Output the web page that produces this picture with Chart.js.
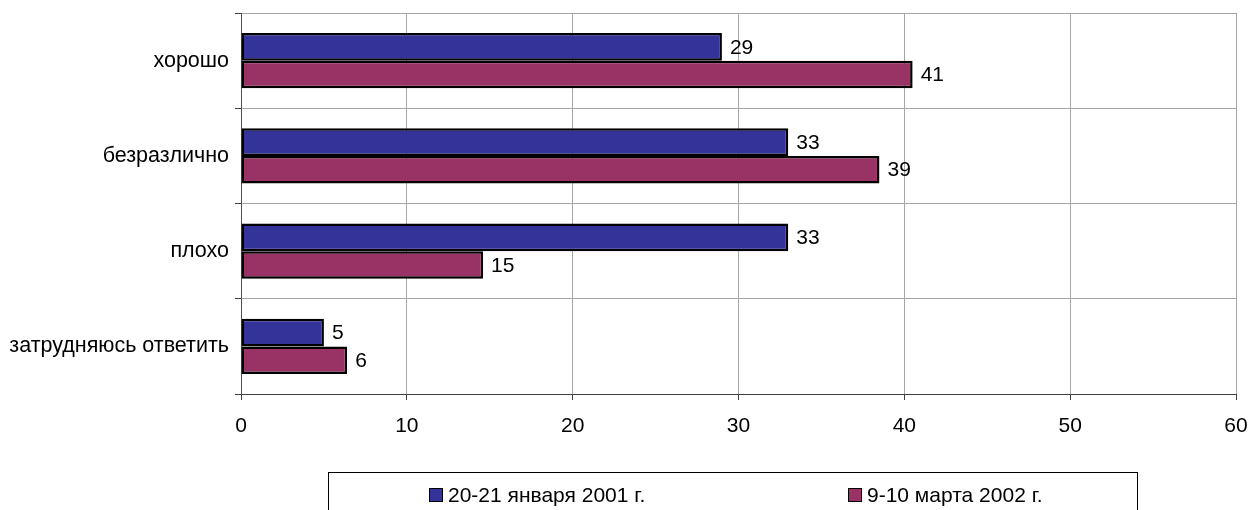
<!DOCTYPE html>
<html>
<head>
<meta charset="utf-8">
<script src="https://cdn.jsdelivr.net/npm/chart.js@4.4.0/dist/chart.umd.min.js"></script>
<style>
    html, body { margin: 0; padding: 0; background: #fff; }
    #wrap { position: relative; width: 1250px; height: 510px; overflow: hidden; }
    #legendBox {
        position: absolute; left: 328px; top: 472px; width: 810px; height: 60px;
        border: 1px solid #000; box-sizing: border-box;
        font-family: 'Liberation Sans', Arial, sans-serif; font-size: 21px; color: #000;
    }
    .lg-item { position: absolute; top: 10px; display: flex; align-items: center; white-space: nowrap; }
    .lg-sq { width: 12px; height: 12px; border: 1px solid #000; margin-right: 5px; }
</style>
</head>
<body>
<div id="wrap">
    <canvas id="myChart" width="1250" height="510"></canvas>
    <div id="legendBox"></div>
</div>
<script>
const categories = ['хорошо', 'безразлично', 'плохо', 'затрудняюсь ответить'];
const seriesNames = ['20-21 января 2001 г.', '9-10 марта 2002 г.'];
const jan2001 = [29, 33, 33, 5];
const mar2002 = [40.5, 38.5, 14.6, 6.4];
const xTicks = [0, 10, 20, 30, 40, 50, 60];
const colors = ['#333399', '#993366'];

const FONT = "'Liberation Sans', Arial, sans-serif";

// value labels at the end of each bar
const barLabels = {
    id: 'barLabels',
    afterDatasetsDraw(chart) {
        const ctx = chart.ctx;
        ctx.save();
        ctx.font = '21px ' + FONT;
        ctx.fillStyle = '#000';
        ctx.textAlign = 'left';
        ctx.textBaseline = 'middle';
        chart.data.datasets.forEach((ds, i) => {
            chart.getDatasetMeta(i).data.forEach((bar, j) => {
                ctx.fillText(String(Math.round(ds.data[j])), bar.x + 8, bar.y + 1);
            });
        });
        ctx.restore();
    }
};

function noPad(scale) {
    scale.paddingLeft = 0;
    scale.paddingRight = 0;
    scale.paddingTop = 0;
    scale.paddingBottom = 0;
}

const myChart = new Chart(document.getElementById('myChart'), {
    type: 'bar',
    data: {
        labels: categories,
        datasets: [{
            label: seriesNames[0],
            data: jan2001,
            backgroundColor: colors[0],
            borderColor: '#000',
            borderWidth: 2.5,
            borderSkipped: false,
        }, {
            label: seriesNames[1],
            data: mar2002,
            backgroundColor: colors[1],
            borderColor: '#000',
            borderWidth: 2.5,
            borderSkipped: false,
        }]
    },
    options: {
        indexAxis: 'y',
        responsive: false,
        animation: false,
        categoryPercentage: 0.58,
        barPercentage: 1.0,
        layout: { padding: { left: 0, top: 13, right: 14, bottom: 0 } },
        plugins: {
            legend: { display: false },
            tooltip: { enabled: false },
        },
        scales: {
            x: {
                min: 0,
                max: 60,
                afterBuildTicks(scale) { scale.ticks = xTicks.map(v => ({value: v})); },
                afterFit(scale) { scale.height = 116; noPad(scale); },
                grid: { color: '#a6a6a6', tickColor: '#404040', tickLength: 6, lineWidth: 1 },
                border: { color: '#404040', width: 1 },
                ticks: { color: '#000', font: { family: FONT, size: 21 }, padding: 14, maxRotation: 0 },
            },
            y: {
                afterFit(scale) { scale.width = 241; noPad(scale); },
                grid: { offset: true, color: '#a6a6a6', tickColor: '#404040', tickLength: 6 },
                border: { color: '#505050', width: 1 },
                ticks: { color: '#000', font: { family: FONT, size: 21.5 }, padding: 6 },
            }
        }
    },
    plugins: [barLabels]
});

// legend in a framed box, as in the original
const legendBox = document.getElementById('legendBox');
const legendLeft = [100, 519];
seriesNames.forEach((name, i) => {
    const item = document.createElement('div');
    item.className = 'lg-item';
    item.style.left = legendLeft[i] + 'px';
    const sq = document.createElement('div');
    sq.className = 'lg-sq';
    sq.style.background = colors[i];
    const txt = document.createElement('span');
    txt.textContent = name;
    item.appendChild(sq);
    item.appendChild(txt);
    legendBox.appendChild(item);
});
</script>
</body>
</html>
